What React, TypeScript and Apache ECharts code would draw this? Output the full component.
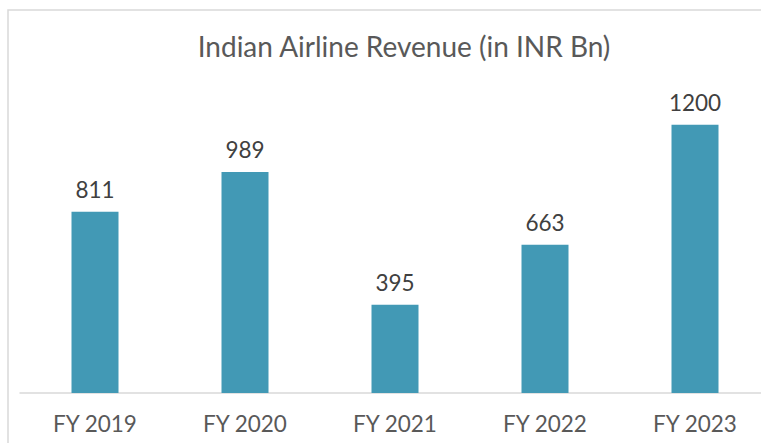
import React, { useEffect, useRef } from "react";
import * as echarts from "echarts";

const categories = ["FY 2019", "FY 2020", "FY 2021", "FY 2022", "FY 2023"];
const revenue = [811, 989, 395, 663, 1200];
const titleText = "Indian Airline Revenue (in INR Bn)";

export default function App() {
  const ref = useRef<HTMLDivElement>(null);
  useEffect(() => {
    if (!ref.current) return;
    const chart = echarts.init(ref.current, null, { renderer: "svg" });
    chart.setOption({
      animation: false,
      backgroundColor: "#ffffff",
      graphic: [
        {
          type: "rect",
          shape: { x: 8, y: 10, width: 820, height: 500 },
          style: { fill: "none", stroke: "#d9d9d9", lineWidth: 1.5 },
          silent: true,
        },
      ],
      title: {
        text: titleText,
        left: 399,
        top: 27,
        textAlign: "center",
        textStyle: {
          fontFamily: "Lato",
          fontWeight: "normal",
          fontSize: 28,
          color: "#595959",
        },
      },
      grid: { left: 20, top: 80, width: 750, height: 313, containLabel: false },
      xAxis: {
        type: "category",
        data: categories,
        axisTick: { show: false },
        axisLine: { lineStyle: { color: "#d9d9d9", width: 1.5 } },
        axisLabel: {
          fontFamily: "Lato",
          fontSize: 22.5,
          color: "#595959",
          margin: 19,
        },
      },
      yAxis: {
        type: "value",
        min: 0,
        max: 1400,
        show: false,
        splitLine: { show: false },
      },
      series: [
        {
          type: "bar",
          data: revenue,
          barWidth: 47,
          itemStyle: { color: "#4299b5" },
          label: {
            show: true,
            position: "top",
            distance: 11,
            fontFamily: "Lato",
            fontSize: 22.5,
            color: "#404040",
          },
        },
      ],
    });
    return () => chart.dispose();
  }, []);
  return (
    <div
      style={{
        position: "fixed",
        left: 0,
        top: 0,
        width: 761,
        height: 443,
        overflow: "hidden",
      }}
    >
      <div ref={ref} style={{ width: 790, height: 443 }} />
    </div>
  );
}
